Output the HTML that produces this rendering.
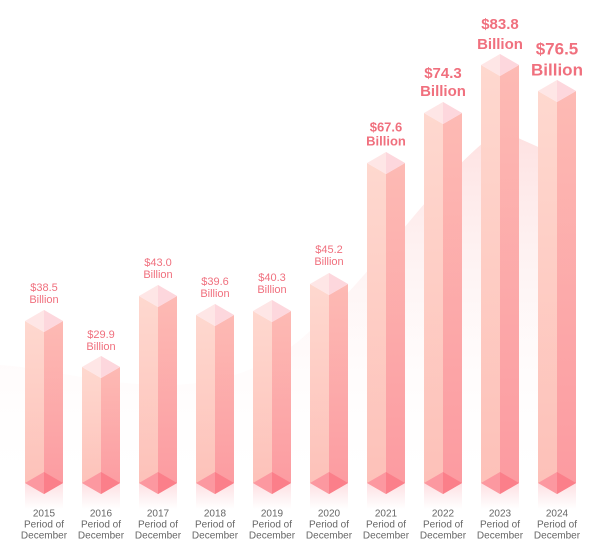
<!DOCTYPE html>
<html><head><meta charset="utf-8"><style>
body{margin:0;background:#fff;}
svg{display:block;font-family:"Liberation Sans",sans-serif;}
</style></head><body>
<svg width="600" height="550" viewBox="0 0 600 550">
<defs>
<linearGradient id="bg" x1="0" y1="0" x2="0" y2="1">
<stop offset="0" stop-color="#fcc8c8" stop-opacity="0.55"/>
<stop offset="1" stop-color="#fff" stop-opacity="0"/>
</linearGradient>
<linearGradient id="lf" x1="0" y1="0" x2="0" y2="1">
<stop offset="0" stop-color="#fed8cf"/><stop offset="1" stop-color="#fdc0b8"/>
</linearGradient>
<linearGradient id="rf" x1="0" y1="0" x2="0" y2="1">
<stop offset="0" stop-color="#fdbab4"/><stop offset="1" stop-color="#fc9aa0"/>
</linearGradient>
<linearGradient id="sh" x1="0" y1="0" x2="0" y2="1">
<stop offset="0" stop-color="#fde0e3"/><stop offset="1" stop-color="#fff"/>
</linearGradient>
</defs>
<path d="M0,365 C80,370 200,420 300,340 C380,270 440,170 500,130 L545,150 L545,495 L0,495 Z" fill="url(#bg)"/>
<g id="bars"></g>
</svg>
<script>
var d=[[44,310,"$38.5","Billion",11,288,300,"normal"],[101,356,"$29.9","Billion",11,335,347,"normal"],[158,285,"$43.0","Billion",11,263,275,"normal"],[215,304,"$39.6","Billion",11,282,294,"normal"],[272,300,"$40.3","Billion",11,278,290,"normal"],[329,273,"$45.2","Billion",11,250,262,"normal"],[386,152,"$67.6","Billion",13,128,142,"bold"],[443,102,"$74.3","Billion",15,74,92,"bold"],[500,54,"$83.8","Billion",15,25,45,"bold"],[557,80,"$76.5","Billion",17,50,71,"bold"]];
var years=[2015,2016,2017,2018,2019,2020,2021,2022,2023,2024];
var s="";
d.forEach(function(b,i){var c=b[0],t=b[1],w=19,h=11,bt=483;
var L=c-w,R=c+w;
s+='<rect x="'+L+'" y="'+(bt)+'" width="'+(2*w)+'" height="26" fill="url(#sh)"/>';
s+='<polygon points="'+L+','+(t+h)+' '+c+','+(t+2*h)+' '+c+','+(bt+h)+' '+L+','+bt+'" fill="url(#lf)"/>';
s+='<polygon points="'+c+','+(t+2*h)+' '+R+','+(t+h)+' '+R+','+bt+' '+c+','+(bt+h)+'" fill="url(#rf)"/>';
s+='<polygon points="'+L+','+(t+h)+' '+c+','+t+' '+R+','+(t+h)+' '+c+','+(t+2*h)+'" fill="#fee6e6"/>';
s+='<polygon points="'+c+','+t+' '+R+','+(t+h)+' '+c+','+(t+2*h)+'" fill="#fcd0d8" opacity="0.7"/>';
s+='<polygon points="'+L+','+bt+' '+c+','+(bt-h)+' '+R+','+bt+' '+c+','+(bt+h)+'" fill="#fc98a0"/>';
s+='<polygon points="'+c+','+(bt-h)+' '+R+','+bt+' '+c+','+(bt+h)+'" fill="#fb7f8a"/>';
s+='<text x="'+c+'" y="'+b[5]+'" font-size="'+b[4]+'" font-weight="'+b[7]+'" fill="#f0707e" text-anchor="middle" dominant-baseline="middle">'+b[2]+'</text>';
s+='<text x="'+c+'" y="'+b[6]+'" font-size="'+b[4]+'" font-weight="'+b[7]+'" fill="#f0707e" text-anchor="middle" dominant-baseline="middle">'+b[3]+'</text>';
s+='<text x="'+c+'" y="514" font-size="10" fill="#666" text-anchor="middle" dominant-baseline="middle">'+years[i]+'</text>';
s+='<text x="'+c+'" y="525" font-size="10" fill="#666" text-anchor="middle" dominant-baseline="middle">Period of</text>';
s+='<text x="'+c+'" y="536" font-size="10" fill="#666" text-anchor="middle" dominant-baseline="middle">December</text>';
});
document.getElementById("bars").innerHTML=s;
</script>
</body></html>
